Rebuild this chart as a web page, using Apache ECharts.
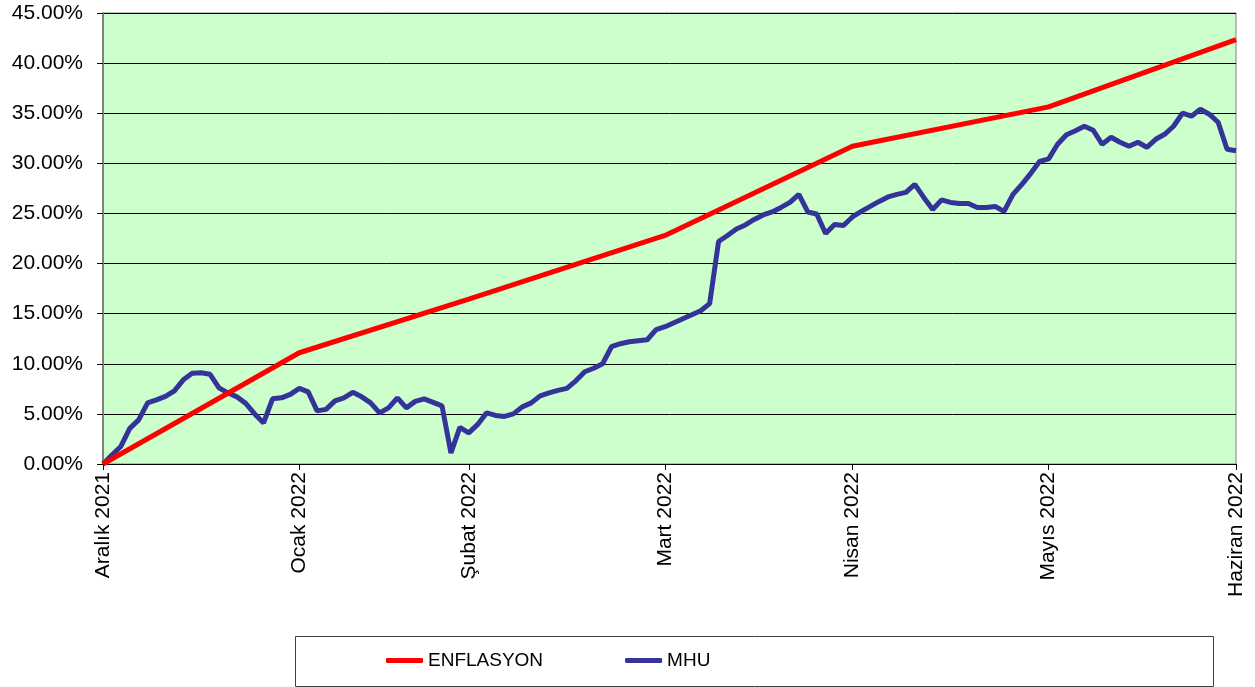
<!DOCTYPE html>
<html>
<head>
<meta charset="utf-8">
<script src="https://cdn.jsdelivr.net/npm/echarts@6/dist/echarts.min.js"></script>
<style>
  html, body { margin: 0; padding: 0; background: #fff; }
  #chart { width: 1255px; height: 687px; }
</style>
</head>
<body>
<div id="chart"></div>
<script>
// month labels and the data point index where each one sits
const monthLabels = ['Aralık 2021', 'Ocak 2022', 'Şubat 2022', 'Mart 2022', 'Nisan 2022', 'Mayıs 2022', 'Haziran 2022'];
const monthIdx = [0, 22, 41, 63, 84, 106, 127];

// cumulative inflation at each month mark (%)
const enflasyon = [0, 11.10, 16.44, 22.81, 31.71, 35.63, 42.35];

// MHU cumulative return (%), one value per data point
const mhu = [
  0, 0.9, 1.75, 3.55, 4.4, 6.1, 6.4, 6.75, 7.3, 8.4,
  9.05, 9.1, 8.95, 7.6, 7.1, 6.7, 6.05, 5.0, 4.1, 6.5,
  6.6, 6.95, 7.55, 7.2, 5.3, 5.45, 6.3, 6.6, 7.15, 6.7,
  6.1, 5.1, 5.6, 6.6, 5.6, 6.25, 6.5, 6.15, 5.8, 1.1,
  3.65, 3.1, 3.95, 5.1, 4.85, 4.75, 5.0, 5.7, 6.1, 6.8,
  7.1, 7.35, 7.55, 8.3, 9.2, 9.55, 10.0, 11.7, 12.0, 12.2,
  12.3, 12.4, 13.4, 13.7, 14.1, 14.5, 14.9, 15.3, 16.0, 22.2,
  22.8, 23.45, 23.85, 24.4, 24.85, 25.15, 25.6, 26.1, 26.9, 25.15,
  24.95, 23.0, 23.9, 23.8, 24.65, 25.2, 25.7, 26.2, 26.65, 26.9,
  27.1, 27.9, 26.6, 25.4, 26.35, 26.1, 26.0, 26.0, 25.6, 25.6,
  25.7, 25.2, 26.9, 27.9, 29.0, 30.2, 30.45, 31.9, 32.85, 33.25,
  33.7, 33.3, 31.9, 32.6, 32.1, 31.7, 32.1, 31.6, 32.4, 32.9,
  33.7, 35.0, 34.7, 35.4, 34.9, 34.1, 31.4, 31.25
];

const categories = mhu.map((v, i) => String(i));
const isMonth = (i) => monthIdx.indexOf(i) !== -1;

const chart = echarts.init(document.getElementById('chart'));

const option = {
  backgroundColor: '#ffffff',
  animation: false,
  grid: {
    left: 103,
    right: 19,
    top: 13,
    bottom: 223,
    show: true,
    backgroundColor: '#CCFFCC',
    borderColor: '#808080',
    borderWidth: 1
  },
  // legend frame
  graphic: [{
    type: 'rect',
    left: 295,
    top: 636,
    shape: { width: 918, height: 50 },
    style: { fill: '#fff', stroke: '#404040', lineWidth: 1 },
    z: 0
  }],
  legend: {
    data: ['ENFLASYON', 'MHU'],
    left: 386,
    top: 651,
    padding: 0,
    itemGap: 82,
    itemWidth: 37,
    itemHeight: 5,
    icon: 'roundRect',
    z: 5,
    textStyle: {
      fontFamily: '"Liberation Sans", Arial, sans-serif',
      fontSize: 19,
      color: '#000'
    }
  },
  xAxis: {
    type: 'category',
    data: categories,
    boundaryGap: false,
    axisLine: { lineStyle: { color: '#000', width: 1 } },
    axisTick: {
      interval: (i) => isMonth(i),
      length: 6,
      lineStyle: { color: '#000' }
    },
    axisLabel: {
      interval: (i) => isMonth(i),
      rotate: 90,
      margin: 8,
      formatter: (v, i) => monthLabels[monthIdx.indexOf(i)] || '',
      fontFamily: '"Liberation Sans", Arial, sans-serif',
      fontSize: 21,
      color: '#000'
    },
    splitLine: { show: false }
  },
  yAxis: {
    type: 'value',
    min: 0,
    max: 45,
    interval: 5,
    axisLine: { show: true, lineStyle: { color: '#808080', width: 2 } },
    axisTick: { show: true, length: 6, lineStyle: { color: '#000' } },
    axisLabel: {
      margin: 20,
      formatter: (v) => v.toFixed(2) + '%',
      fontFamily: '"Liberation Sans", Arial, sans-serif',
      fontSize: 21,
      color: '#000'
    },
    splitLine: { lineStyle: { color: '#000', width: 1 } }
  },
  series: [
    {
      name: 'MHU',
      type: 'line',
      data: mhu,
      symbol: 'none',
      lineStyle: { color: '#333399', width: 5 },
      itemStyle: { color: '#333399' }
    },
    {
      name: 'ENFLASYON',
      type: 'line',
      data: enflasyon.map((v, k) => [monthIdx[k], v]),
      symbol: 'none',
      lineStyle: { color: '#FF0000', width: 5 },
      itemStyle: { color: '#FF0000' }
    }
  ]
};

chart.setOption(option);
</script>
</body>
</html>
